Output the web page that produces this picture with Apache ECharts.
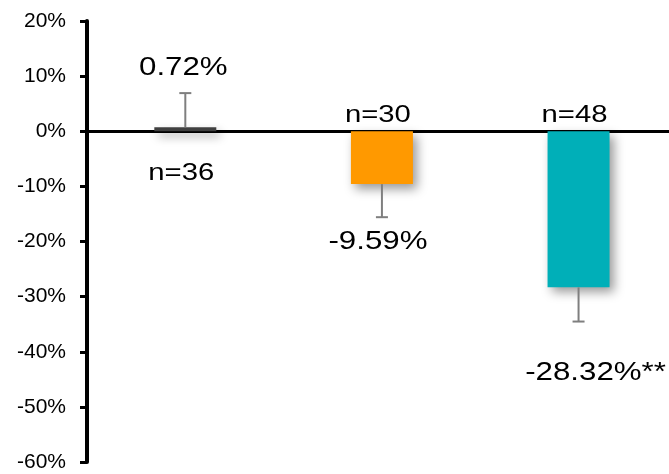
<!DOCTYPE html>
<html>
<head>
<meta charset="utf-8">
<script src="https://cdn.jsdelivr.net/npm/echarts@6/dist/echarts.min.js"></script>
<style>
html, body { margin: 0; padding: 0; background: #fff; }
#main { width: 669px; height: 474px; }
</style>
</head>
<body>
<div id="main"></div>
<script>
// data
var groups = ['G1', 'G2', 'G3'];
var changePct = [0.72, -9.59, -28.32];
var errPct = [6.2, 6.0, 6.2];
var sampleN = ['n=36', 'n=30', 'n=48'];
var valueText = ['0.72%', '-9.59%', '-28.32%**'];
var yMin = -60, yMax = 20, yStep = 10;

// styling
var barColors = ['#404040', '#FF9900', '#00AFB8'];
var valueGap = [25, 25, 52];   // distance of value label from end of error bar
var valueDx = [-2, -4, 17];
var font = '"Liberation Sans", Arial, sans-serif';

var myChart = echarts.init(document.getElementById('main'));

function renderErr(params, api) {
    var i = api.value(0), v = api.value(1), e = api.value(2);
    var dir = v >= 0 ? 1 : -1;
    var start = api.coord([i, v]);
    var end = api.coord([i, v + dir * e]);
    var zero = api.coord([i, 0]);
    var x = start[0];
    var vy = v >= 0 ? end[1] - valueGap[i] : end[1] + valueGap[i];
    var ny = v >= 0 ? zero[1] + 42 : zero[1] - 16;
    var lineStyle = { stroke: '#7F7F7F', lineWidth: 2 };
    return {
        type: 'group',
        children: [
            { type: 'line', shape: { x1: x, y1: start[1], x2: x, y2: end[1] }, style: lineStyle },
            { type: 'line', shape: { x1: x - 6, y1: end[1], x2: x + 6, y2: end[1] }, style: lineStyle },
            {
                type: 'text', x: x + valueDx[i], y: vy, scaleX: 1.25,
                style: { text: valueText[i], font: '25px ' + font, fill: '#000', align: 'center', verticalAlign: 'middle' }
            },
            {
                type: 'text', x: x - 4, y: ny, scaleX: 1.22,
                style: { text: sampleN[i], font: '24px ' + font, fill: '#000', align: 'center', verticalAlign: 'middle' }
            }
        ]
    };
}

var errData = [];
var barData = [];
for (var i = 0; i < groups.length; i++) {
    errData.push([i, changePct[i], errPct[i]]);
    barData.push({
        name: groups[i],
        value: [i, changePct[i]],
        itemStyle: {
            color: barColors[i],
            shadowBlur: 10,
            shadowOffsetX: 4,
            shadowOffsetY: 5,
            shadowColor: 'rgba(0,0,0,0.4)'
        }
    });
}

var option = {
    animation: false,
    grid: { left: 87, right: 0, top: 21, bottom: 12 },
    xAxis: {
        type: 'value',
        min: -0.5,
        max: 2.46,
        axisLine: { onZero: true, lineStyle: { color: '#000', width: 3 } },
        axisTick: { show: false },
        axisLabel: { show: false },
        splitLine: { show: false }
    },
    yAxis: {
        type: 'value',
        min: yMin,
        max: yMax,
        interval: yStep,
        axisLine: { show: true, onZero: false, lineStyle: { color: '#000', width: 4 } },
        axisTick: { show: true, length: 7, lineStyle: { color: '#000', width: 3 } },
        splitLine: { show: false },
        axisLabel: {
            formatter: '{value}%',
            color: '#000',
            fontFamily: font,
            fontSize: 21,
            margin: 21
        }
    },
    series: [
        {
            type: 'bar',
            barWidth: 62,
            data: barData
        },
        {
            type: 'custom',
            renderItem: renderErr,
            data: errData,
            z: 5
        }
    ]
};

myChart.setOption(option);
</script>
</body>
</html>
